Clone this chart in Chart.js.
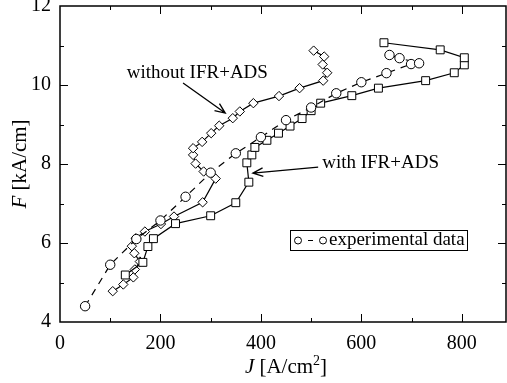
<!DOCTYPE html>
<html>
<head>
<meta charset="utf-8">
<script src="https://cdn.jsdelivr.net/npm/chart.js@4/dist/chart.umd.min.js"></script>
<style>
  html, body { margin: 0; padding: 0; background: #fff; }
  #wrap { width: 507px; height: 383px; position: relative; }
</style>
</head>
<body>
<div id="wrap"><canvas id="myChart"></canvas></div>
<script>
// experimental data (circles, dashed)
var expJ = [50, 100, 152, 200, 250, 300, 350, 400, 450, 500, 550, 600, 650, 699, 715, 676, 656];
var expF = [4.4, 5.45, 6.1, 6.57, 7.17, 7.78, 8.27, 8.68, 9.11, 9.43, 9.79, 10.07, 10.3, 10.53, 10.55, 10.68, 10.76];

// with IFR+ADS (squares)
var withJ = [130, 165, 175, 186, 230, 300, 350, 376, 372, 382, 388, 412, 435, 458, 482, 500, 519, 581, 634, 728, 785, 805, 805, 757, 645];
var withF = [5.19, 5.51, 5.91, 6.11, 6.49, 6.69, 7.02, 7.54, 8.03, 8.23, 8.42, 8.6, 8.78, 8.96, 9.15, 9.35, 9.54, 9.73, 9.92, 10.11, 10.31, 10.51, 10.69, 10.89, 11.07];

// without IFR+ADS (diamonds)
var withoutJ = [105, 126, 146, 149, 159, 148, 143, 151, 169, 201, 227, 284, 310, 286, 270, 265, 265, 283, 301, 317, 344, 358, 385, 436, 477, 524, 532, 523, 526, 505];
var withoutF = [4.78, 4.95, 5.13, 5.33, 5.53, 5.74, 5.92, 6.12, 6.29, 6.48, 6.67, 7.03, 7.63, 7.81, 8.01, 8.23, 8.4, 8.56, 8.78, 8.97, 9.16, 9.33, 9.54, 9.72, 9.92, 10.11, 10.31, 10.52, 10.72, 10.87];

var xTicks = [0, 200, 400, 600, 800];
var yTicks = [4, 6, 8, 10, 12];

function pts(xs, ys) {
    var out = [];
    for (let i = 0; i < xs.length; i++) {
        out.push({x: xs[i], y: ys[i]});
    }
    return out;
}

var serif = "'Liberation Serif', 'DejaVu Serif', serif";

// box, inward ticks, axis titles, arrows and legend
var decor = {
    id: 'decor',
    afterDraw: function(chart) {
        var ctx = chart.ctx;
        var a = chart.chartArea;
        var xs = chart.scales.x, ys = chart.scales.y;
        ctx.save();
        ctx.strokeStyle = '#000';
        ctx.fillStyle = '#000';
        ctx.lineWidth = 1.5;
        ctx.strokeRect(a.left, a.top, a.right - a.left, a.bottom - a.top);

        ctx.lineWidth = 1;
        ctx.beginPath();
        for (let j = 100; j <= 800; j += 100) {
            let px = Math.round(xs.getPixelForValue(j)) + 0.5;
            let len = (j % 200 === 0) ? 8 : 4;
            ctx.moveTo(px, a.bottom); ctx.lineTo(px, a.bottom - len);
            ctx.moveTo(px, a.top); ctx.lineTo(px, a.top + len);
        }
        for (let f = 5; f <= 11; f += 1) {
            let py = Math.round(ys.getPixelForValue(f)) + 0.5;
            let len = (f % 2 === 0) ? 8 : 4;
            ctx.moveTo(a.left, py); ctx.lineTo(a.left + len, py);
            ctx.moveTo(a.right, py); ctx.lineTo(a.right - len, py);
        }
        ctx.stroke();

        // x title: J [A/cm2]
        ctx.textBaseline = 'alphabetic';
        ctx.textAlign = 'left';
        var f1 = 'italic 21px ' + serif, f2 = '21px ' + serif, f3 = '14px ' + serif;
        ctx.font = f1; var wJ = ctx.measureText('J').width;
        ctx.font = f2; var wA = ctx.measureText(' [A/cm').width;
        ctx.font = f3; var w2 = ctx.measureText('2').width;
        ctx.font = f2; var wB = ctx.measureText(']').width;
        var tot = wJ + wA + w2 + wB;
        var cx = 286;
        var x0 = cx - tot / 2, by = 373;
        ctx.font = f1; ctx.fillText('J', x0, by);
        ctx.font = f2; ctx.fillText(' [A/cm', x0 + wJ, by);
        ctx.font = f3; ctx.fillText('2', x0 + wJ + wA, by - 8);
        ctx.font = f2; ctx.fillText(']', x0 + wJ + wA + w2, by);

        // y title: F [kA/cm]
        ctx.save();
        ctx.translate(26, 164);
        ctx.rotate(-Math.PI / 2);
        ctx.font = f1; var wF = ctx.measureText('F').width;
        ctx.font = f2; var wk = ctx.measureText(' [kA/cm]').width;
        var y0 = -(wF + wk) / 2;
        ctx.font = f1; ctx.fillText('F', y0, 0);
        ctx.font = f2; ctx.fillText(' [kA/cm]', y0 + wF, 0);
        ctx.restore();

        // annotations with arrows
        function arrow(x1, y1, x2, y2) {
            var p1x = xs.getPixelForValue(x1), p1y = ys.getPixelForValue(y1);
            var p2x = xs.getPixelForValue(x2), p2y = ys.getPixelForValue(y2);
            var ang = Math.atan2(p2y - p1y, p2x - p1x);
            ctx.lineWidth = 1.3;
            ctx.beginPath();
            ctx.moveTo(p1x, p1y); ctx.lineTo(p2x, p2y);
            ctx.moveTo(p2x - 11 * Math.cos(ang - 0.4), p2y - 11 * Math.sin(ang - 0.4));
            ctx.lineTo(p2x, p2y);
            ctx.lineTo(p2x - 11 * Math.cos(ang + 0.4), p2y - 11 * Math.sin(ang + 0.4));
            ctx.stroke();
        }
        ctx.font = '19px ' + serif;
        ctx.textBaseline = 'middle';
        ctx.fillText('without IFR+ADS', xs.getPixelForValue(133), ys.getPixelForValue(10.3));
        arrow(245, 10.05, 329, 9.29);
        ctx.fillText('with IFR+ADS', xs.getPixelForValue(522), ys.getPixelForValue(8.03));
        arrow(514, 7.92, 384, 7.77);

        // legend
        var lx = Math.round(xs.getPixelForValue(458)), ly = Math.round(ys.getPixelForValue(6.34));
        var lw = 177, lh = 20;
        ctx.lineWidth = 1;
        ctx.strokeRect(lx + 0.5, ly + 0.5, lw, lh);
        var my = ly + lh / 2 + 0.5;
        ctx.beginPath(); ctx.arc(lx + 8, my, 3.5, 0, Math.PI * 2); ctx.stroke();
        ctx.beginPath(); ctx.moveTo(lx + 18, my); ctx.lineTo(lx + 23, my); ctx.stroke();
        ctx.beginPath(); ctx.arc(lx + 33, my, 3.5, 0, Math.PI * 2); ctx.stroke();
        ctx.font = '19px ' + serif;
        ctx.fillText('experimental data', lx + 39, my);
        ctx.restore();
    }
};

var ctx = document.getElementById('myChart');

var myChart = new Chart(ctx, {
    type: 'scatter',
    data: {
        datasets: [{
            label: 'experimental data',
            data: pts(expJ, expF),
            showLine: true,
            borderColor: '#000',
            borderWidth: 1.2,
            borderDash: [7, 6],
            backgroundColor: '#fff',
            pointStyle: 'circle',
            pointRadius: 4.7,
            pointBorderWidth: 1,
            pointBorderColor: '#000',
            pointBackgroundColor: '#fff'
        }, {
            label: 'with IFR+ADS',
            data: pts(withJ, withF),
            showLine: true,
            borderColor: '#000',
            borderWidth: 1.2,
            backgroundColor: '#fff',
            pointStyle: 'rect',
            pointRadius: 5.6,
            pointBorderWidth: 1,
            pointBorderColor: '#000',
            pointBackgroundColor: '#fff'
        }, {
            label: 'without IFR+ADS',
            data: pts(withoutJ, withoutF),
            showLine: true,
            borderColor: '#000',
            borderWidth: 1.2,
            backgroundColor: '#fff',
            pointStyle: 'rectRot',
            pointRadius: 4.7,
            pointBorderWidth: 1,
            pointBorderColor: '#000',
            pointBackgroundColor: '#fff'
        }]
    },
    options: {
        responsive: true,
        maintainAspectRatio: false,
        animation: false,
        layout: {
            autoPadding: false,
            padding: {top: 6, right: 1, left: 0, bottom: 0}
        },
        plugins: {
            legend: {display: false},
            tooltip: {enabled: false}
        },
        elements: {
            line: {tension: 0}
        },
        scales: {
            x: {
                type: 'linear',
                min: 0,
                max: 888,
                grid: {display: false},
                border: {display: false},
                ticks: {
                    stepSize: 200,
                    includeBounds: false,
                    maxRotation: 0,
                    padding: 2,
                    color: '#000',
                    font: {family: serif, size: 20}
                },
                afterFit: function(scale) {
                    scale.height = 61;
                    scale.paddingLeft = 0;
                    scale.paddingRight = 0;
                }
            },
            y: {
                type: 'linear',
                min: 4,
                max: 12,
                grid: {display: false},
                border: {display: false},
                ticks: {
                    stepSize: 2,
                    padding: 1,
                    color: '#000',
                    font: {family: serif, size: 20}
                },
                afterFit: function(scale) {
                    scale.width = 60;
                    scale.paddingTop = 0;
                    scale.paddingBottom = 0;
                }
            }
        }
    },
    plugins: [decor]
});
</script>
</body>
</html>
